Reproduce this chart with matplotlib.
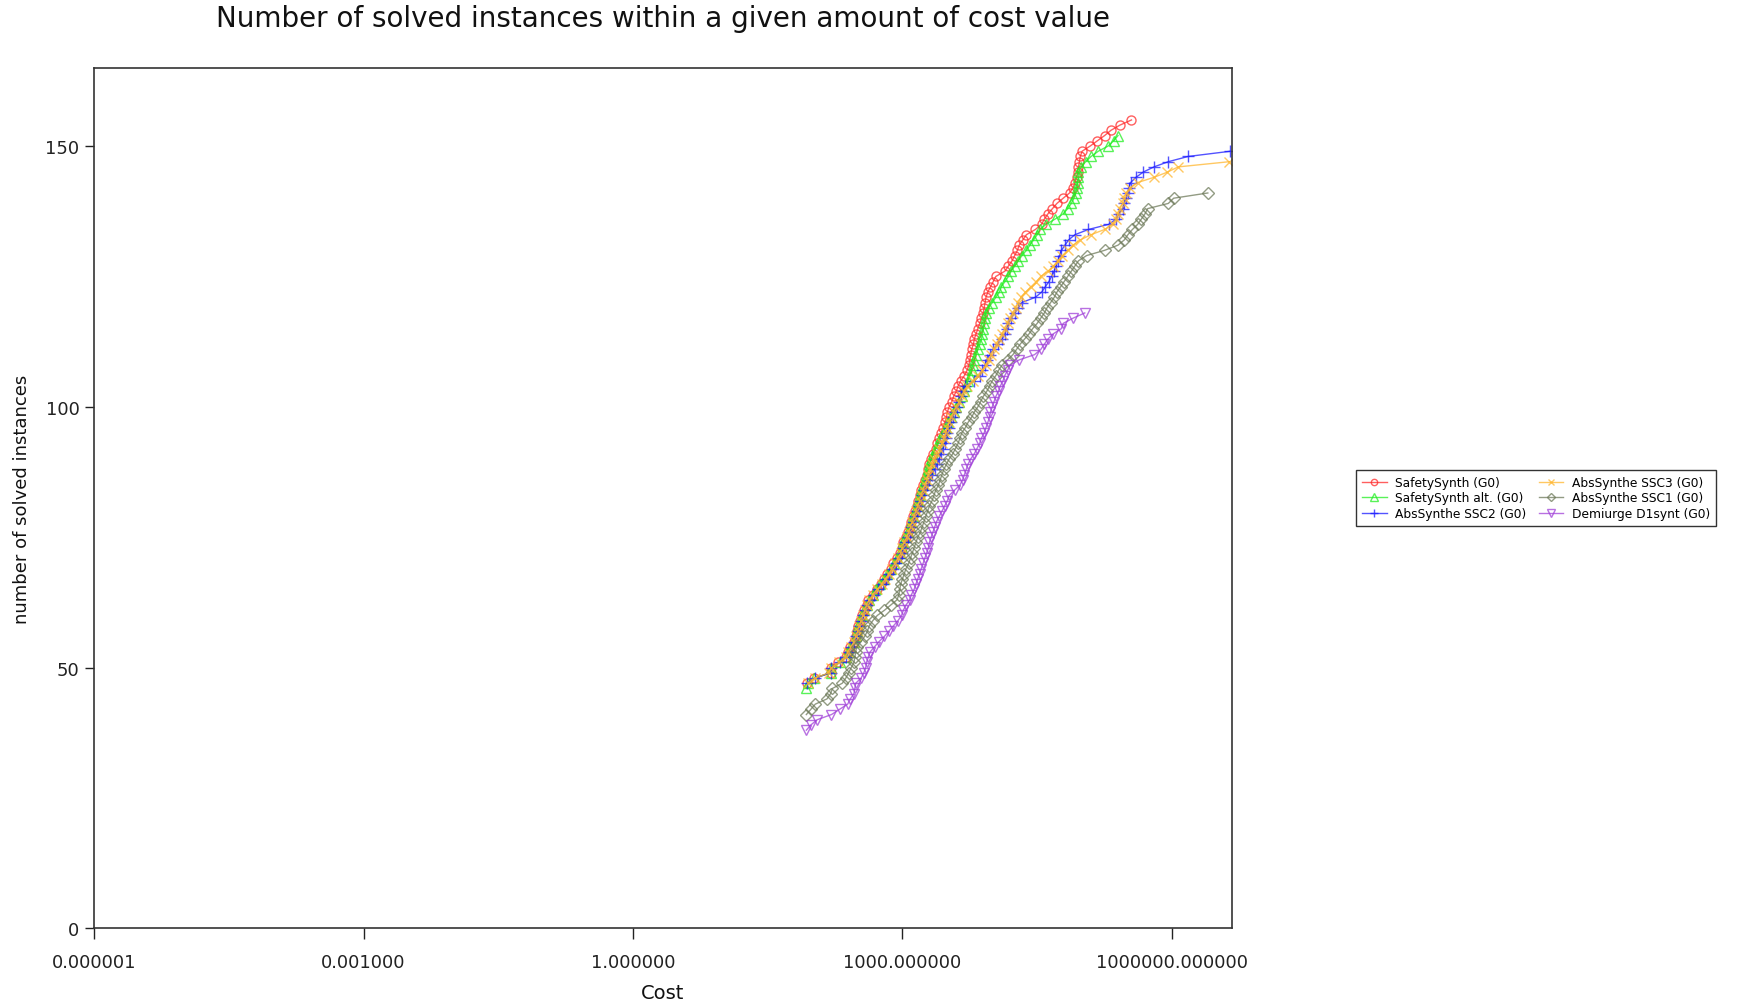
import matplotlib
matplotlib.use("Agg")
import matplotlib.pyplot as plt
from matplotlib.ticker import FixedLocator, FuncFormatter, NullLocator

# log10(cost) of each solved instance, in order; counts start at the value given
safety_start = 47
safety_log10 = [
    1.94, 2.02, 2.20, 2.20, 2.28, 2.37, 2.39, 2.42, 2.46, 2.48,
    2.49, 2.50, 2.53, 2.55, 2.57, 2.60, 2.62, 2.67, 2.72, 2.76,
    2.80, 2.83, 2.87, 2.90, 2.94, 2.97, 2.99, 3.01, 3.04, 3.06,
    3.08, 3.10, 3.12, 3.14, 3.16, 3.17, 3.19, 3.21, 3.23, 3.25,
    3.27, 3.29, 3.30, 3.32, 3.34, 3.37, 3.39, 3.41, 3.43, 3.45,
    3.47, 3.49, 3.50, 3.52, 3.55, 3.57, 3.60, 3.62, 3.65, 3.69,
    3.72, 3.74, 3.75, 3.76, 3.77, 3.79, 3.80, 3.82, 3.84, 3.86,
    3.88, 3.90, 3.91, 3.92, 3.93, 3.95, 3.98, 4.01, 4.04, 4.14,
    4.18, 4.22, 4.25, 4.28, 4.30, 4.34, 4.38, 4.48, 4.55, 4.58,
    4.62, 4.67, 4.72, 4.79, 4.86, 4.90, 4.92, 4.94, 4.95, 4.96,
    4.97, 4.98, 5.00, 5.09, 5.17, 5.25, 5.32, 5.42, 5.55,
]

safety_alt_start = 46
safety_alt_log10 = [
    1.93, 1.95, 2.02, 2.20, 2.21, 2.30, 2.37, 2.39, 2.42, 2.46,
    2.48, 2.49, 2.51, 2.53, 2.55, 2.57, 2.60, 2.63, 2.67, 2.71,
    2.75, 2.79, 2.83, 2.87, 2.91, 2.94, 2.97, 2.99, 3.01, 3.03,
    3.06, 3.08, 3.10, 3.12, 3.14, 3.16, 3.17, 3.19, 3.21, 3.23,
    3.25, 3.26, 3.28, 3.30, 3.32, 3.34, 3.37, 3.40, 3.42, 3.45,
    3.48, 3.51, 3.54, 3.57, 3.60, 3.63, 3.66, 3.69, 3.71, 3.73,
    3.75, 3.77, 3.78, 3.80, 3.82, 3.84, 3.86, 3.88, 3.89, 3.90,
    3.91, 3.92, 3.93, 3.96, 4.00, 4.04, 4.08, 4.10, 4.14, 4.18,
    4.21, 4.25, 4.29, 4.33, 4.38, 4.42, 4.46, 4.50, 4.53, 4.60,
    4.70, 4.79, 4.84, 4.88, 4.91, 4.93, 4.94, 4.95, 4.96, 4.96,
    4.99, 5.04, 5.10, 5.18, 5.29, 5.35, 5.40,
]

ssc2_start = 47
ssc2_log10 = [
    1.94, 2.03, 2.20, 2.21, 2.30, 2.37, 2.40, 2.43, 2.46, 2.48,
    2.50, 2.52, 2.54, 2.56, 2.58, 2.61, 2.64, 2.68, 2.73, 2.78,
    2.82, 2.85, 2.89, 2.93, 2.96, 2.99, 3.01, 3.03, 3.06, 3.08,
    3.10, 3.12, 3.14, 3.16, 3.18, 3.20, 3.22, 3.24, 3.27, 3.30,
    3.33, 3.36, 3.39, 3.41, 3.43, 3.45, 3.47, 3.49, 3.50, 3.52,
    3.54, 3.56, 3.58, 3.61, 3.63, 3.65, 3.67, 3.70, 3.80, 3.86,
    3.89, 3.92, 3.94, 3.97, 4.01, 4.06, 4.11, 4.14, 4.16, 4.18,
    4.21, 4.25, 4.29, 4.33, 4.48, 4.55, 4.59, 4.63, 4.66, 4.69,
    4.71, 4.73, 4.75, 4.77, 4.81, 4.85, 4.92, 5.07, 5.30, 5.38,
    5.41, 5.45, 5.47, 5.49, 5.51, 5.52, 5.54, 5.60, 5.68, 5.80,
    5.96, 6.18, 6.65,
]

ssc3_start = 47
ssc3_log10 = [
    1.95, 2.03, 2.18, 2.21, 2.29, 2.37, 2.39, 2.43, 2.46, 2.48,
    2.50, 2.52, 2.54, 2.56, 2.58, 2.60, 2.63, 2.67, 2.72, 2.77,
    2.81, 2.85, 2.88, 2.92, 2.95, 2.98, 3.00, 3.02, 3.05, 3.07,
    3.09, 3.11, 3.13, 3.15, 3.17, 3.19, 3.21, 3.23, 3.25, 3.27,
    3.29, 3.31, 3.33, 3.35, 3.38, 3.41, 3.44, 3.46, 3.48, 3.50,
    3.52, 3.54, 3.57, 3.60, 3.63, 3.66, 3.69, 3.72, 3.78, 3.84,
    3.89, 3.93, 3.96, 3.99, 4.02, 4.05, 4.08, 4.11, 4.14, 4.17,
    4.20, 4.23, 4.26, 4.29, 4.32, 4.37, 4.43, 4.49, 4.54, 4.62,
    4.68, 4.73, 4.78, 4.84, 4.90, 4.98, 5.10, 5.25, 5.34, 5.38,
    5.40, 5.42, 5.45, 5.47, 5.49, 5.53, 5.62, 5.80, 5.95, 6.07,
    6.64,
]

ssc1_start = 41
ssc1_log10 = [
    1.93, 1.98, 2.03, 2.16, 2.20, 2.22, 2.33, 2.37, 2.40, 2.43,
    2.46, 2.47, 2.48, 2.49, 2.54, 2.58, 2.61, 2.63, 2.67, 2.72,
    2.80, 2.87, 2.94, 2.96, 2.97, 2.98, 3.00, 3.02, 3.04, 3.07,
    3.09, 3.11, 3.13, 3.15, 3.17, 3.20, 3.22, 3.24, 3.26, 3.28,
    3.30, 3.33, 3.35, 3.37, 3.40, 3.42, 3.44, 3.46, 3.49, 3.52,
    3.56, 3.59, 3.62, 3.64, 3.66, 3.70, 3.73, 3.77, 3.80, 3.84,
    3.87, 3.90, 3.94, 3.97, 4.00, 4.04, 4.07, 4.11, 4.17, 4.23,
    4.27, 4.31, 4.36, 4.41, 4.45, 4.50, 4.54, 4.58, 4.61, 4.65,
    4.69, 4.72, 4.76, 4.80, 4.84, 4.88, 4.92, 4.96, 5.05, 5.25,
    5.40, 5.47, 5.51, 5.56, 5.62, 5.66, 5.70, 5.73, 5.96, 6.02,
    6.40,
]

d1synt_start = 38
d1synt_log10 = [
    1.93, 1.98, 2.05, 2.21, 2.30, 2.39, 2.42, 2.46, 2.47, 2.48,
    2.54, 2.57, 2.59, 2.60, 2.62, 2.64, 2.69, 2.74, 2.80, 2.85,
    2.90, 2.95, 2.99, 3.01, 3.04, 3.08, 3.10, 3.13, 3.15, 3.17,
    3.19, 3.21, 3.23, 3.25, 3.27, 3.29, 3.30, 3.32, 3.34, 3.36,
    3.38, 3.41, 3.44, 3.47, 3.50, 3.52, 3.58, 3.64, 3.67, 3.69,
    3.71, 3.73, 3.76, 3.80, 3.83, 3.86, 3.88, 3.91, 3.93, 3.95,
    3.97, 3.98, 4.00, 4.02, 4.04, 4.07, 4.09, 4.12, 4.14, 4.17,
    4.20, 4.30, 4.47, 4.54, 4.58, 4.62, 4.68, 4.77, 4.79, 4.90,
    5.03,
]

labels = ["SafetySynth (G0)", "SafetySynth alt. (G0)", "AbsSynthe SSC2 (G0)",
          "AbsSynthe SSC3 (G0)", "AbsSynthe SSC1 (G0)", "Demiurge D1synt (G0)"]
starts = [safety_start, safety_alt_start, ssc2_start, ssc3_start, ssc1_start, d1synt_start]
series = [safety_log10, safety_alt_log10, ssc2_log10, ssc3_log10, ssc1_log10, d1synt_log10]
colors = ["#ff2a2a", "#22ee22", "#1a1aff", "#ffb62e", "#6e7a5a", "#a040d8"]
markers = ["o", "^", "+", "x", "D", "v"]
msizes = [6.5, 7.5, 9, 7, 6.5, 7.5]

x_ticks = [1e-6, 1e-3, 1, 1e3, 1e6]

fig = plt.figure(figsize=(17.39, 10.03), dpi=100)
ax = fig.add_axes([0.0541, 0.0734, 0.6544, 0.858])

for lab, st, vals, c, m, ms in zip(labels, starts, series, colors, markers, msizes):
    xs = [10 ** v for v in vals]
    ys = list(range(st, st + len(vals)))
    ax.plot(xs, ys, color=c, marker=m, markersize=ms, markerfacecolor="none",
            markeredgewidth=1.0, linewidth=1.0, alpha=0.75, label=lab)

ax.set_xscale("log")
ax.set_xlim(1e-6, 10 ** 6.67)
ax.set_ylim(0, 165)
ax.xaxis.set_major_locator(FixedLocator(x_ticks))
ax.xaxis.set_minor_locator(NullLocator())
ax.xaxis.set_major_formatter(FuncFormatter(lambda v, p: "%f" % v))
ax.set_yticks([0, 50, 100, 150])
ax.tick_params(axis="x", direction="out", length=8, width=1, labelsize=12.8, pad=10, colors="#222222")
ax.tick_params(axis="y", direction="out", length=6.5, width=1, labelsize=13, pad=4, colors="#222222")
for s in ax.spines.values():
    s.set_color("#333333")
    s.set_linewidth(1.2)

fig.text(663 / 1739, 1 - 19 / 1003, "Number of solved instances within a given amount of cost value",
         ha="center", va="center", fontsize=20, color="#111111")
fig.text(663 / 1739, 1 - 994 / 1003, "Cost", ha="center", va="center", fontsize=14, color="#111111")
fig.text(22 / 1739, 1 - 499 / 1003, "number of solved instances", ha="center", va="center",
         rotation=90, fontsize=13, color="#111111")

leg = fig.legend(loc="center left", bbox_to_anchor=(1356 / 1739, 1 - 499 / 1003), ncol=2,
                 fontsize=8.8, frameon=True, fancybox=False, edgecolor="black",
                 labelspacing=0.2, columnspacing=1.0, handlelength=2.0, borderpad=0.5,
                 handletextpad=0.7, borderaxespad=0.0, markerscale=0.7)
leg.get_frame().set_linewidth(1.0)

fig.savefig("out.png", dpi=100)
